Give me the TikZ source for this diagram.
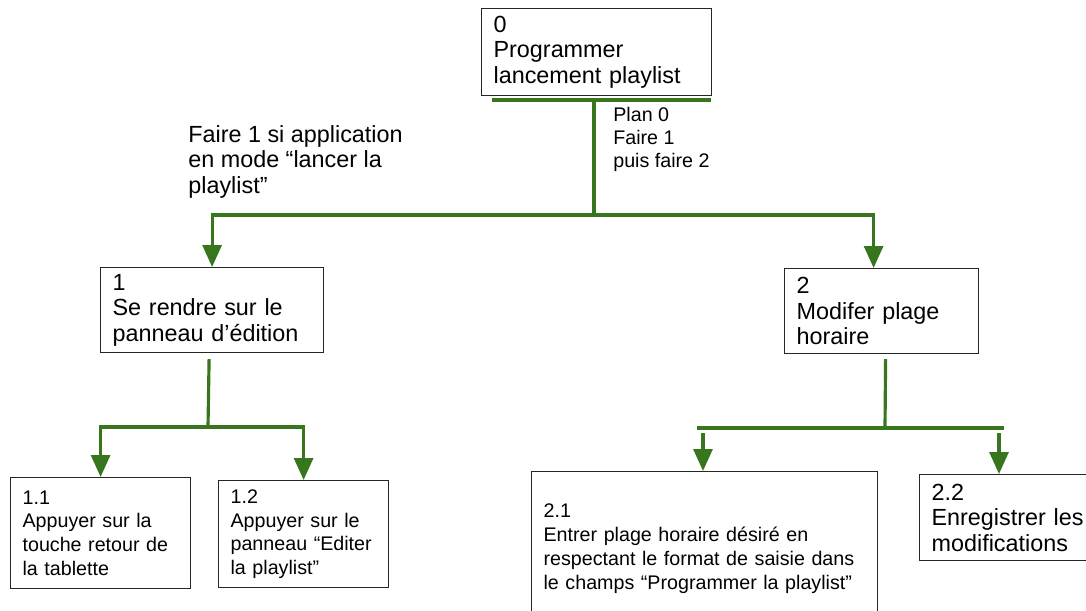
\documentclass[tikz,border=0pt]{standalone}
\usepackage{fontspec}
\setmainfont{Liberation Sans}
\usepackage{tikz}
\usetikzlibrary{arrows.meta}
\usetikzlibrary{positioning,calc}
\definecolor{planGreen}{HTML}{38761D}

\begin{document}
\begin{tikzpicture}[x=0.02cm, y=-0.02cm]
	%defines
	\tikzstyle{taskBox} = [rectangle, draw=black!85, line width=0.7pt, anchor=north west, inner xsep=0.24cm, inner ysep=0pt, align=left]
	\tikzstyle{bigText} = [font=\fontsize{13.3}{14.5}\selectfont]
	\tikzstyle{smallText} = [font=\fontsize{11.2}{13.5}\selectfont]
	\tikzstyle{planNote} = [anchor=north west, inner sep=0pt, align=left]
	\tikzstyle{planLine} = [draw=planGreen, line width=1.8pt]
	\tikzstyle{arrow} = [planLine, -{Triangle[width=0.38cm,length=0.44cm]}]
	\useasboundingbox (0,0) rectangle (1086,611);
	%tasks
	\node (task0) [taskBox, bigText, text width=4.12cm, minimum height=1.74cm] at (481,8) {0\\Programmer\\lancement playlist};
	\node (task1) [taskBox, bigText, text width=3.98cm, minimum height=1.70cm] at (100,267) {1\\Se rendre sur le\\panneau d’édition};
	\node (task2) [taskBox, bigText, text width=3.40cm, minimum height=1.70cm] at (784,268) {2\\Modifer plage\\horaire};
	\node (task11) [taskBox, smallText, text width=3.12cm, minimum height=2.22cm] at (10,477) {1.1\\Appuyer sur la\\touche retour de\\la tablette};
	\node (task12) [taskBox, smallText, text width=2.92cm, minimum height=2.14cm] at (218,480) {1.2\\Appuyer sur le\\panneau “Editer\\la playlist”};
	\node (task21) [taskBox, smallText, text width=6.44cm, minimum height=3.08cm] at (531,471) {2.1\\Entrer plage horaire désiré en\\respectant le format de saisie dans\\le champs “Programmer la playlist”};
	\node (task22) [taskBox, bigText, text width=3.60cm, minimum height=1.72cm] at (919,474) {2.2\\Enregistrer les\\modifications};
	%plans
	\node (plan0) [planNote, font=\fontsize{11.2}{13}\selectfont] at (613,107) {Plan 0\\Faire 1\\puis faire 2};
	\node (cond1) [planNote, bigText] at (188,125) {Faire 1 si application\\en mode “lancer la\\playlist”};
	%chart
	\coordinate (bar0l) at (492,100);
	\coordinate (bar0r) at (711,100);
	\coordinate (stem0) at (594,101);
	\coordinate (fork0) at (594,215);
	\coordinate (fork1) at (208,427);
	\coordinate (fork2) at (885,428);
	\coordinate (bar2l) at (697,428);
	\coordinate (bar2r) at (1004,428);
	\coordinate (drop21) at (703,433);
	\coordinate (drop22) at (999,433);
	\draw [planLine] (bar0l) -- (bar0r);
	\draw [planLine] (stem0) -- (fork0);
	\draw [arrow] (fork0) -| (task1);
	\draw [arrow] (fork0) -| ($(task2.north)+(-8,0)$);
	\draw [planLine] ($(task1.south)+(-3,6)$) -- (fork1);
	\draw [arrow] (fork1) -| (task11);
	\draw [arrow] (fork1) -| (task12);
	\draw [planLine] ($(task2.south)+(4,5)$) -- (fork2);
	\draw [planLine] (bar2l) -- (bar2r);
	\draw [arrow] (drop21) -- (drop21 |- task21.north);
	\draw [arrow] (drop22) -- (drop22 |- task22.north);
\end{tikzpicture}
\end{document}
